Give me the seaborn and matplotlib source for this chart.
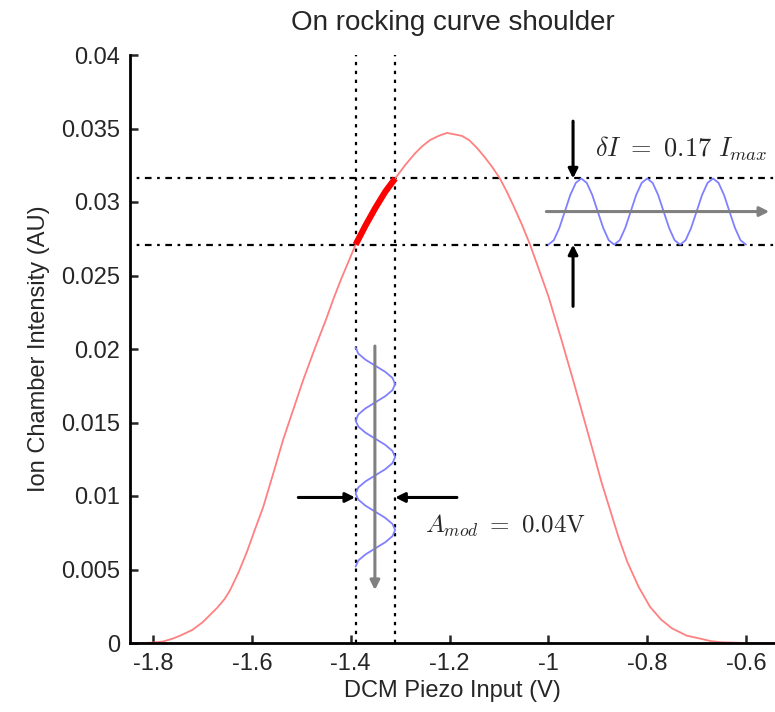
import numpy as np
import matplotlib
matplotlib.use("Agg")
import matplotlib.pyplot as plt
import seaborn as sns

# ---- data ----
curve_x = [-1.85, -1.82, -1.80, -1.78, -1.76, -1.745, -1.72, -1.70, -1.685, -1.67,
           -1.655, -1.644, -1.627, -1.61, -1.594, -1.577, -1.557, -1.537, -1.516, -1.496,
           -1.473, -1.45, -1.435, -1.42, -1.405, -1.39, -1.37, -1.35, -1.33, -1.31,
           -1.29, -1.27, -1.255, -1.24, -1.222, -1.205, -1.19, -1.175, -1.16, -1.145,
           -1.13, -1.114, -1.098, -1.084, -1.07, -1.054, -1.037, -1.02, -1.00, -0.975,
           -0.95, -0.93, -0.91, -0.893, -0.875, -0.858, -0.84, -0.817, -0.794, -0.772,
           -0.75, -0.72, -0.693, -0.67, -0.65, -0.60, -0.54]
curve_y = [0.0, 0.0, 0.00003, 0.0001, 0.0003, 0.0005, 0.0009, 0.0014, 0.0019, 0.0024,
           0.0030, 0.0036, 0.0048, 0.0062, 0.0077, 0.00925, 0.0115, 0.0138, 0.0159, 0.0179,
           0.0200, 0.0220, 0.0234, 0.0247, 0.0259, 0.0271, 0.0284, 0.0296, 0.0307, 0.0316,
           0.0325, 0.0333, 0.0338, 0.0342, 0.0345, 0.0347, 0.0346, 0.0345, 0.0342, 0.0337,
           0.0331, 0.0324, 0.0316, 0.0307, 0.0297, 0.0285, 0.0271, 0.0255, 0.0236, 0.0208,
           0.0179, 0.0155, 0.0131, 0.0110, 0.00905, 0.0072, 0.0055, 0.0038, 0.00245, 0.0016,
           0.0010, 0.0005, 0.0003, 0.00012, 0.00005, 0.0, 0.0]

shoulder_x = [-1.39, -1.37, -1.35, -1.33, -1.31]
shoulder_y = [0.0271, 0.0284, 0.0296, 0.0307, 0.0316]

# intensity modulation wave (right) - one cycle, repeated
hwave_cycle_y = [0.0271, 0.0274, 0.02823, 0.02935, 0.03048, 0.0313,
                 0.0316, 0.0313, 0.03048, 0.02935, 0.02823, 0.0274]
hwave_y = hwave_cycle_y * 3 + [0.0271]
hwave_x = np.linspace(-1.0, -0.6, len(hwave_y))

# piezo modulation wave (vertical) - one cycle, repeated
vwave_cycle_x = [-1.39, -1.3846, -1.37, -1.35, -1.33, -1.3154,
                 -1.31, -1.3154, -1.33, -1.35, -1.37, -1.3846]
vwave_x = vwave_cycle_x * 3 + [-1.39]
vwave_y = np.linspace(0.0201, 0.0052, len(vwave_x))

vlines_x = [-1.39, -1.31]
hlines_y = [0.0271, 0.0316]

xticks = [-1.8, -1.6, -1.4, -1.2, -1.0, -0.8, -0.6]
xticklabels = ['-1.8', '-1.6', '-1.4', '-1.2', '-1', '-0.8', '-0.6']
yticks = [0, 0.005, 0.01, 0.015, 0.02, 0.025, 0.03, 0.035, 0.04]
yticklabels = ['0', '0.005', '0.01', '0.015', '0.02', '0.025', '0.03', '0.035', '0.04']

# ---- style ----
sns.set_style("white")
plt.rcParams['font.family'] = ['Liberation Sans', 'DejaVu Sans']
plt.rcParams['mathtext.fontset'] = 'cm'
plt.rcParams['axes.unicode_minus'] = False

fig = plt.figure(figsize=(7.75, 7.12), dpi=100)
ax = fig.add_axes([130 / 775, 1 - 643 / 712, 645 / 775, (643 - 55) / 712])

# guide lines
for xv in vlines_x:
    ax.plot([xv, xv], [0, 0.04], color='black', lw=1.6, ls=(0, (1.5, 2.5)), zorder=1)
for yv in hlines_y:
    ax.plot([-1.9, -0.5], [yv, yv], color='black', lw=1.6, ls=(0, (3, 2.5, 1.2, 2.5)), zorder=1)

sns.lineplot(x=curve_x, y=curve_y, ax=ax, color='#ff8080', lw=1.3, zorder=2)
sns.lineplot(x=shoulder_x, y=shoulder_y, ax=ax, color='red', lw=4.5, zorder=3,
             solid_capstyle='butt')
sns.lineplot(x=hwave_x, y=hwave_y, ax=ax, color='#8080ff', lw=1.3, zorder=3,
             sort=False, estimator=None)
sns.lineplot(x=vwave_x, y=vwave_y, ax=ax, color='#8080ff', lw=1.3, zorder=3,
             sort=False, estimator=None)

gray = dict(arrowstyle='-|>', color='#808080', lw=2.2, mutation_scale=14,
            shrinkA=0, shrinkB=0)
ax.annotate('', xy=(-0.553, 0.02935), xytext=(-1.004, 0.02935), arrowprops=gray, zorder=4)
ax.annotate('', xy=(-1.351, 0.0036), xytext=(-1.351, 0.0202), arrowprops=gray, zorder=4)

blk = dict(arrowstyle='-|>', color='black', lw=2.2, mutation_scale=14,
           shrinkA=0, shrinkB=0)
ax.annotate('', xy=(-0.950, 0.0316), xytext=(-0.950, 0.0355), arrowprops=blk, zorder=5)
ax.annotate('', xy=(-0.950, 0.0271), xytext=(-0.950, 0.0229), arrowprops=blk, zorder=5)
ax.annotate('', xy=(-1.391, 0.0099), xytext=(-1.506, 0.0099), arrowprops=blk, zorder=5)
ax.annotate('', xy=(-1.310, 0.0099), xytext=(-1.185, 0.0099), arrowprops=blk, zorder=5)

ax.text(-0.905, 0.0336, r'$\delta I\ =\ 0.17\ I_{max}$', fontsize=19,
        ha='left', va='center')
ax.text(-1.249, 0.0080, r'$A_{mod}\ =\ 0.04\mathrm{V}$', fontsize=18,
        ha='left', va='center')

ax.set_xlim(-1.8466, -0.5413)
ax.set_ylim(0, 0.04)
ax.set_xticks(xticks)
ax.set_xticklabels(xticklabels)
ax.set_yticks(yticks)
ax.set_yticklabels(yticklabels)
ax.tick_params(direction='in', length=6, width=1.8, labelsize=17, pad=7,
               bottom=True, left=True)
for s in ['top', 'right']:
    ax.spines[s].set_visible(False)
for s in ['left', 'bottom']:
    ax.spines[s].set_linewidth(2)
    ax.spines[s].set_color('black')

ax.set_xlabel('DCM Piezo Input (V)', fontsize=17, labelpad=4)
ax.set_ylabel('Ion Chamber Intensity (AU)', fontsize=17, labelpad=8)
ax.set_title('On rocking curve shoulder', fontsize=20, pad=18)

fig.savefig('out.png', dpi=100)
